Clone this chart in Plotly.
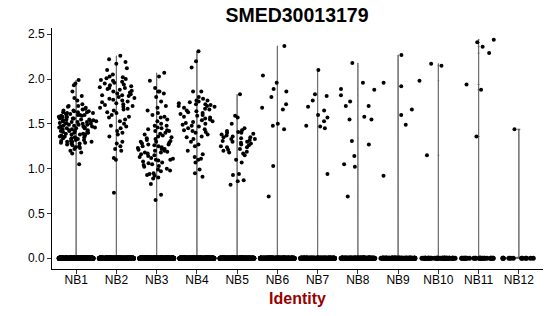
import plotly.graph_objects as go

categories = ["NB1", "NB2", "NB3", "NB4", "NB5", "NB6", "NB7", "NB8", "NB9", "NB10", "NB11", "NB12"]

# number of cells with zero expression per identity (estimated from the dense band at 0)
zero_counts = [400, 380, 420, 380, 320, 220, 160, 160, 90, 40, 25, 12]

# non-zero expression values per identity
nb1 = [1.99, 1.95, 1.93, 1.86, 1.81, 1.79, 1.76, 1.72, 1.70, 1.70, 1.69, 1.68, 1.67, 1.66, 1.65, 1.65,
       1.64, 1.64, 1.63, 1.63, 1.62, 1.62, 1.61, 1.61, 1.60, 1.60, 1.60, 1.59, 1.59, 1.58, 1.58, 1.57,
       1.57, 1.56, 1.56, 1.55, 1.55, 1.55, 1.54, 1.54, 1.53, 1.53, 1.52, 1.52, 1.52, 1.51, 1.51, 1.50,
       1.50, 1.50, 1.49, 1.49, 1.48, 1.48, 1.47, 1.47, 1.47, 1.46, 1.46, 1.45, 1.45, 1.45, 1.44, 1.44,
       1.43, 1.43, 1.42, 1.42, 1.41, 1.41, 1.40, 1.40, 1.39, 1.39, 1.38, 1.38, 1.37, 1.37, 1.36, 1.36,
       1.35, 1.35, 1.34, 1.34, 1.33, 1.33, 1.32, 1.32, 1.31, 1.31, 1.30, 1.30, 1.29, 1.29, 1.28, 1.28,
       1.27, 1.26, 1.25, 1.24, 1.23, 1.22, 1.20, 1.18, 1.17, 1.05, 1.63, 1.58, 1.56, 1.53, 1.49, 1.46,
       1.42, 1.38, 1.34, 1.30]
nb2 = [2.26, 2.22, 2.19, 2.17, 2.12, 2.10, 2.05, 2.03, 2.02, 2.01, 2.00, 1.99, 1.98, 1.97, 1.96, 1.95,
       1.94, 1.93, 1.92, 1.91, 1.90, 1.90, 1.89, 1.88, 1.87, 1.86, 1.85, 1.84, 1.83, 1.82, 1.82, 1.81,
       1.80, 1.79, 1.78, 1.77, 1.76, 1.75, 1.74, 1.73, 1.72, 1.71, 1.70, 1.69, 1.68, 1.67, 1.66, 1.65,
       1.63, 1.62, 1.60, 1.58, 1.57, 1.55, 1.53, 1.50, 1.48, 1.47, 1.45, 1.42, 1.40, 1.38, 1.36, 1.30,
       1.28, 1.25, 1.22, 1.20, 1.12, 1.10, 0.73]
nb3 = [2.07, 2.03, 1.98, 1.90, 1.86, 1.86, 1.84, 1.80, 1.75, 1.70, 1.68, 1.65, 1.62, 1.60, 1.58, 1.57,
       1.55, 1.53, 1.50, 1.48, 1.46, 1.45, 1.43, 1.42, 1.42, 1.40, 1.38, 1.37, 1.36, 1.35, 1.34, 1.33,
       1.32, 1.31, 1.30, 1.30, 1.29, 1.28, 1.27, 1.26, 1.25, 1.25, 1.24, 1.23, 1.22, 1.21, 1.20, 1.20,
       1.19, 1.18, 1.17, 1.16, 1.15, 1.14, 1.13, 1.12, 1.11, 1.10, 1.10, 1.09, 1.08, 1.07, 1.06, 1.05,
       1.04, 1.03, 1.02, 1.00, 0.99, 0.98, 0.97, 0.95, 0.94, 0.93, 0.92, 0.90, 0.89, 0.83, 0.71, 0.65,
       1.48, 1.44, 1.39, 1.27, 1.22, 1.18]
nb4 = [2.31, 2.20, 2.13, 1.86, 1.86, 1.80, 1.78, 1.76, 1.76, 1.75, 1.74, 1.73, 1.72, 1.72, 1.71, 1.70,
       1.70, 1.69, 1.68, 1.67, 1.66, 1.65, 1.64, 1.63, 1.62, 1.61, 1.60, 1.59, 1.58, 1.57, 1.56, 1.55,
       1.53, 1.52, 1.51, 1.50, 1.49, 1.47, 1.45, 1.44, 1.43, 1.42, 1.41, 1.40, 1.38, 1.36, 1.35, 1.33,
       1.30, 1.27, 1.20, 1.16, 1.13, 1.11, 1.10, 1.07, 0.99, 0.95, 0.91, 1.25, 1.48, 1.54]
nb5 = [1.83, 1.59, 1.57, 1.50, 1.43, 1.42, 1.41, 1.40, 1.40, 1.39, 1.38, 1.37, 1.36, 1.35, 1.35, 1.34,
       1.33, 1.32, 1.31, 1.30, 1.30, 1.29, 1.28, 1.27, 1.26, 1.25, 1.24, 1.22, 1.21, 1.20, 1.19, 1.18,
       1.17, 1.15, 1.10, 1.07, 0.94, 0.93, 0.87, 0.86, 0.82, 1.45, 1.33, 1.24]
nb6 = [2.37, 2.04, 1.96, 1.89, 1.86, 1.80, 1.72, 1.68, 1.66, 1.50, 1.48, 1.44, 1.03, 0.69]
nb7 = [2.10, 1.83, 1.81, 1.76, 1.69, 1.65, 1.60, 1.57, 1.53, 1.48, 1.47, 1.45, 0.94]
nb8 = [2.18, 1.96, 1.89, 1.88, 1.82, 1.75, 1.70, 1.70, 1.58, 1.55, 1.55, 1.31, 1.27, 1.14, 1.05, 1.02, 0.69]
nb9 = [2.27, 1.96, 1.92, 1.66, 1.60, 1.49, 0.92]
nb10 = [2.17, 2.15, 1.98, 1.15]
nb11 = [2.44, 2.41, 2.36, 2.29, 1.94, 1.88, 1.36]
nb12 = [1.44]

nonzero = [nb1, nb2, nb3, nb4, nb5, nb6, nb7, nb8, nb9, nb10, nb11, nb12]

y_ticks = [0.0, 0.5, 1.0, 1.5, 2.0, 2.5]

# build long-form arrays
all_x, all_y = [], []
nz_x, nz_y = [], []
z_x, z_y = [], []
for cat, vals, nz in zip(categories, nonzero, zero_counts):
    zeros = [0.0] * nz
    all_x += [cat] * (len(vals) + nz)
    all_y += vals + zeros
    nz_x += [cat] * len(vals)
    nz_y += vals
    z_x += [cat] * nz
    z_y += zeros

fig = go.Figure()

# thin violin outline (appears as a line from 0 to the max value)
fig.add_trace(go.Violin(
    x=all_x, y=all_y, points=False, bandwidth=0.005, spanmode="hard", width=0.8,
    scalemode="width", line=dict(color="#5a5a5a", width=1), fillcolor="#5a5a5a",
    showlegend=False, hoverinfo="skip", box_visible=False, meanline_visible=False,
))

# jittered non-zero cells
fig.add_trace(go.Violin(
    x=nz_x, y=nz_y, points="all", jitter=1, pointpos=0, width=1.0, spanmode="hard",
    line=dict(width=0, color="rgba(0,0,0,0)"), fillcolor="rgba(0,0,0,0)",
    marker=dict(color="black", size=4, line=dict(width=0)),
    showlegend=False, hoveron="points", box_visible=False, meanline_visible=False,
))

# jittered zero cells
fig.add_trace(go.Box(
    x=z_x, y=z_y, boxpoints="all", jitter=1, pointpos=0,
    line=dict(width=0, color="rgba(0,0,0,0)"), fillcolor="rgba(0,0,0,0)",
    marker=dict(color="black", size=5, line=dict(width=0)),
    showlegend=False, hoveron="points",
))

fig.update_layout(
    width=550, height=316,
    margin=dict(l=52, r=7, t=28, b=47),
    paper_bgcolor="white", plot_bgcolor="white",
    boxmode="overlay", boxgap=0.15, boxgroupgap=0,
    violinmode="overlay", violingap=0.0, violingroupgap=0,
    font=dict(family="Liberation Sans, Arial, sans-serif", color="black", size=12),
    title=dict(text="<b>SMED30013179</b>", x=0.54, xanchor="center", y=0.952, yanchor="middle",
               font=dict(size=19.5, color="black")),
    showlegend=False,
)

fig.update_xaxes(
    type="category", categoryorder="array", categoryarray=categories,
    range=[-0.6, 11.6], showline=True, linecolor="black", linewidth=1,
    ticks="outside", ticklen=4, tickcolor="#333", showgrid=False, zeroline=False,
    tickfont=dict(size=12, color="black"), ticklabelstandoff=-4,
    title=dict(text="<b>Identity</b>", font=dict(size=16, color="#990000"), standoff=6),
)
fig.update_yaxes(
    range=[-0.12, 2.57], tickvals=y_ticks, ticktext=[f"{v:.1f}" for v in y_ticks],
    showline=True, linecolor="black", linewidth=1,
    ticks="outside", ticklen=4, tickcolor="#333", showgrid=False, zeroline=False,
    tickfont=dict(size=12, color="black"),
)

fig.write_html("out.html")
